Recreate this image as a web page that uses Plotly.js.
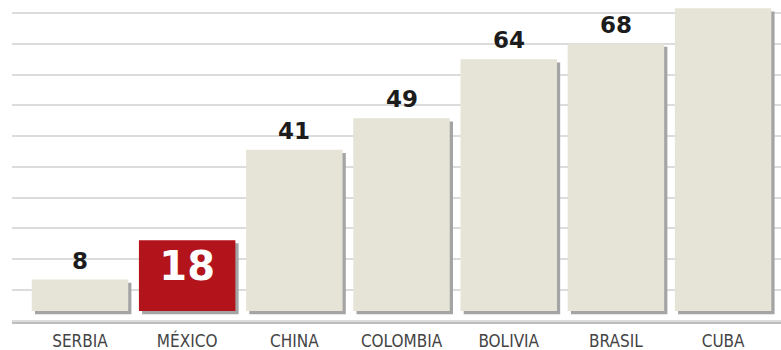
<!DOCTYPE html>
<html>
<head>
<meta charset="utf-8">
<script src="https://cdn.plot.ly/plotly-3.0.1.min.js"></script>
<style>html,body{margin:0;padding:0;background:#fff;}#chart{width:781px;height:350px;}</style>
</head>
<body>
<div id="chart"></div>
<script>
const countries = ['SERBIA', 'MÉXICO', 'CHINA', 'COLOMBIA', 'BOLIVIA', 'BRASIL', 'CUBA'];
const values = [8, 18, 41, 49, 64, 68, 77];
const valueLabels = ['8', '18', '41', '49', '64', '68', '77'];
const highlight = 'MÉXICO';

const barColors = countries.map(c => c === highlight ? '#b3141c' : '#e6e4d6');
const numFont = '"DejaVu Sans", sans-serif';

const shadow = {
  type: 'bar', x: countries, y: values, base: -0.8,
  width: 0.9, offset: -0.42,
  marker: {color: '#a4a4a4', line: {width: 0}},
  hoverinfo: 'skip', showlegend: false
};
const bars = {
  type: 'bar', x: countries, y: values,
  width: 0.9,
  marker: {color: barColors, line: {width: 0}},
  text: countries.map((c, i) => c === highlight ? valueLabels[i] : ''),
  textposition: 'inside',
  insidetextanchor: 'end',
  insidetextfont: {family: numFont, weight: 'bold', color: '#ffffff', size: 40},
  constraintext: 'none',
  showlegend: false
};

const annotations = countries.map((c, i) => c === highlight ? null : ({
  x: c, y: values[i], xref: 'x', yref: 'y',
  text: valueLabels[i], showarrow: false,
  yanchor: 'bottom', yshift: 4,
  font: {family: numFont, weight: 'bold', size: 23, color: '#1c1c1c'}
})).filter(a => a);

const layout = {
  width: 781, height: 350,
  margin: {l: 12, r: 0, t: 0, b: 28},
  paper_bgcolor: '#ffffff', plot_bgcolor: '#ffffff',
  barmode: 'overlay',
  showlegend: false,
  annotations: annotations,
  xaxis: {
    range: [-0.634, 6.54], fixedrange: true,
    showgrid: false, zeroline: false,
    showline: true, linecolor: '#bdbdbd', linewidth: 2,
    ticks: '', ticklabelstandoff: 3,
    tickfont: {family: '"Liberation Sans Narrow", "DejaVu Sans Condensed", sans-serif', size: 17, color: '#444444'}
  },
  yaxis: {
    range: [-2.8, 79.1], fixedrange: true,
    showticklabels: false, zeroline: false,
    showgrid: true, gridcolor: '#dcdcdc', gridwidth: 2,
    tick0: 5.34, dtick: 7.83
  }
};

Plotly.newPlot('chart', [shadow, bars], layout, {displayModeBar: false, staticPlot: true});
</script>
</body>
</html>
